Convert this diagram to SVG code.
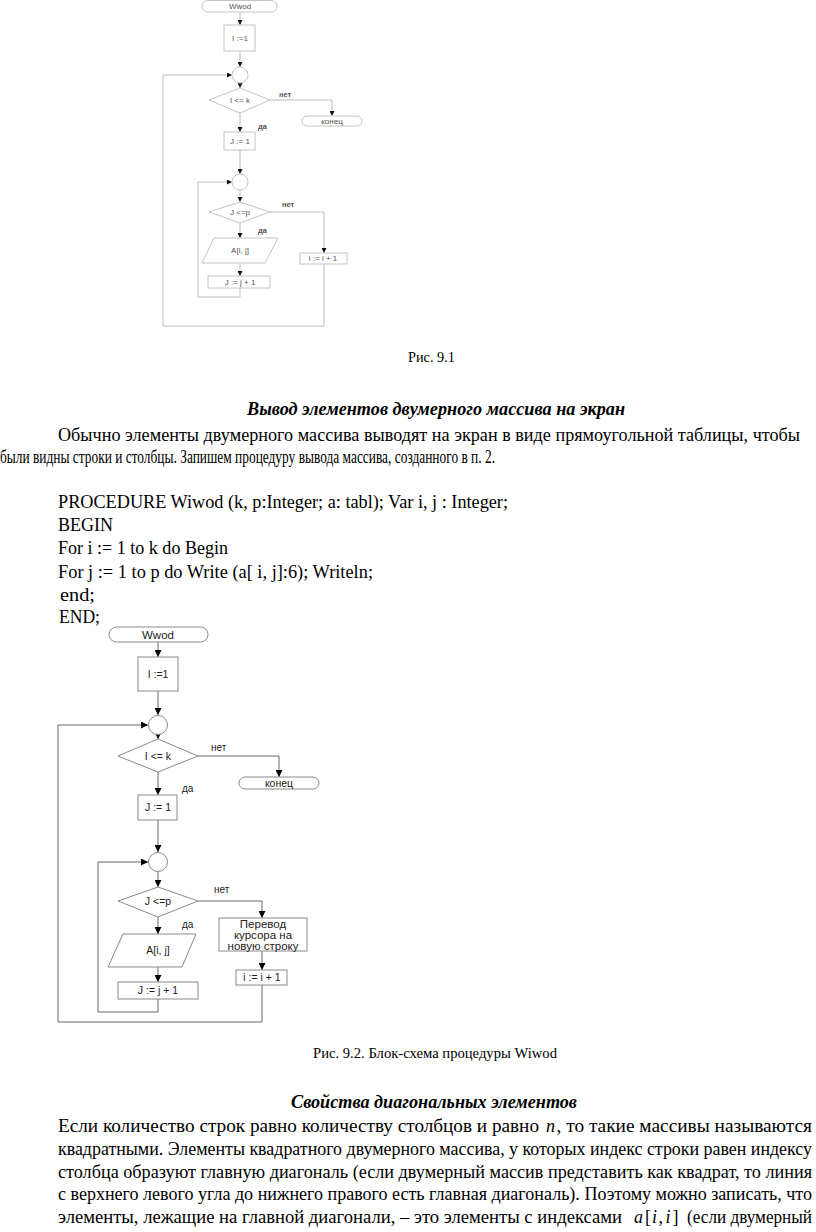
<svg xmlns="http://www.w3.org/2000/svg" width="816" height="1232" viewBox="0 0 816 1232">
<style>
.bg{fill:#fff}
.t{font-family:"Liberation Serif","Times New Roman",serif;font-size:18px;fill:#000}
.cap{font-family:"Liberation Serif","Times New Roman",serif;font-size:15px;fill:#000}
.bi{font-weight:bold;font-style:italic}
.i{font-style:italic}
.f1 .shape{fill:#fff;stroke:#c4c4c4;stroke-width:1}
.f1 .ln{fill:none;stroke:#bdbdbd;stroke-width:1}
.f1 text{font-family:"Liberation Sans",Arial,sans-serif;font-size:8px;fill:#555;text-anchor:middle}
.f1 text.lbl{text-anchor:start;font-weight:bold;font-size:7.5px}
.f2 .shape{fill:#fff;stroke:#8a8a8a;stroke-width:1}
.f2 .ln{fill:none;stroke:#666;stroke-width:1}
.f2 text{font-family:"Liberation Sans",Arial,sans-serif;font-size:10.5px;fill:#222;text-anchor:middle}
.f2 text.lbl{text-anchor:start;font-size:10px}
.f2 text.big{font-size:11.5px}
</style>
<defs>
<marker id="a1" viewBox="0 0 10 10" refX="10" refY="5" markerWidth="5" markerHeight="5" orient="auto" markerUnits="userSpaceOnUse"><path d="M0,0 L10,5 L0,10 z" fill="#111"/></marker>
<marker id="a2" viewBox="0 0 10 10" refX="10" refY="5" markerWidth="7" markerHeight="7" orient="auto" markerUnits="userSpaceOnUse"><path d="M0,0 L10,5 L0,10 z" fill="#000"/></marker>
</defs>
<rect class="bg" x="0" y="0" width="816" height="1232"/>

<!-- Figure 9.1 -->
<g class="f1">
<g id="f1-connectors">
<path class="ln" d="M240,12 V25" marker-end="url(#a1)"/>
<path class="ln" d="M240,51 V67" marker-end="url(#a1)"/>
<path class="ln" d="M240,83 V88" marker-end="url(#a1)"/>
<path class="ln" d="M270,100 H332 V116" marker-end="url(#a1)"/>
<path class="ln" d="M240,113 V132" marker-end="url(#a1)"/>
<path class="ln" d="M240,150 V174" marker-end="url(#a1)"/>
<path class="ln" d="M240,190 V202" marker-end="url(#a1)"/>
<path class="ln" d="M270,212 H324 V253" marker-end="url(#a1)"/>
<path class="ln" d="M240,223 V238" marker-end="url(#a1)"/>
<path class="ln" d="M240,263 V276" marker-end="url(#a1)"/>
<path class="ln" d="M240,288 V297 H198 V182 H232" marker-end="url(#a1)"/>
<path class="ln" d="M324,264 V326 H163 V75 H232" marker-end="url(#a1)"/>
<text class="lbl" x="279" y="97">нет</text>
<text class="lbl" x="258" y="129">да</text>
<text class="lbl" x="282" y="207">нет</text>
<text class="lbl" x="258" y="233">да</text>
</g>
<g id="f1-start"><rect class="shape" x="202" y="0.5" width="75" height="11.5" rx="5.75"/><text x="240" y="9">Wwod</text></g>
<g id="f1-i1"><rect class="shape" x="224" y="25" width="31" height="26"/><text x="240" y="41">I :=1</text></g>
<g id="f1-c1"><circle class="shape" cx="240" cy="75" r="8"/></g>
<g id="f1-d1"><polygon class="shape" points="240,88 270,100 240,113 209,100"/><text x="240" y="103">I &lt;= k</text></g>
<g id="f1-end"><rect class="shape" x="302" y="116" width="60" height="10" rx="5"/><text x="332" y="124">конец</text></g>
<g id="f1-j1"><rect class="shape" x="224" y="132" width="31" height="18"/><text x="240" y="144">J := 1</text></g>
<g id="f1-c2"><circle class="shape" cx="240" cy="182" r="8"/></g>
<g id="f1-d2"><polygon class="shape" points="240,202 270,212 240,223 209,212"/><text x="240" y="215">J &lt;=p</text></g>
<g id="f1-out"><polygon class="shape" points="214,238 278,238 265,263 202,263"/><text x="240" y="253">A[i, j]</text></g>
<g id="f1-jinc"><rect class="shape" x="208" y="276" width="62" height="12"/><text x="240" y="285">J := j + 1</text></g>
<g id="f1-iinc"><rect class="shape" x="300" y="253" width="47" height="11"/><text x="323" y="261">i := i + 1</text></g>
</g>

<text class="cap" x="408" y="362" textLength="47" lengthAdjust="spacingAndGlyphs">Рис. 9.1</text>
<text class="t bi" x="247" y="415" textLength="378" lengthAdjust="spacingAndGlyphs">Вывод элементов двумерного массива на экран</text>
<text class="t" x="58" y="441" textLength="742" lengthAdjust="spacingAndGlyphs">Обычно элементы двумерного массива выводят на экран в виде прямоугольной таблицы, чтобы</text>
<text class="t" x="0" y="463" textLength="495" lengthAdjust="spacingAndGlyphs">были видны строки и столбцы. Запишем процедуру вывода массива, созданного в п. 2.</text>

<text class="t" x="58" y="508" textLength="450" lengthAdjust="spacingAndGlyphs">PROCEDURE Wiwod (k, p:Integer; a: tabl); Var i, j : Integer;</text>
<text class="t" x="58" y="531" textLength="55" lengthAdjust="spacingAndGlyphs">BEGIN</text>
<text class="t" x="58" y="554" textLength="170" lengthAdjust="spacingAndGlyphs">For i := 1 to k do Begin</text>
<text class="t" x="58" y="578" textLength="315" lengthAdjust="spacingAndGlyphs">For j := 1 to p do Write (a[ i, j]:6); Writeln;</text>
<text class="t" x="60" y="601" textLength="35" lengthAdjust="spacingAndGlyphs">end;</text>
<text class="t" x="59" y="623" textLength="41" lengthAdjust="spacingAndGlyphs">END;</text>

<!-- Figure 9.2 -->
<g class="f2">
<g id="f2-connectors">
<path class="ln" d="M158,642 V657" marker-end="url(#a2)"/>
<path class="ln" d="M158,691 V715" marker-end="url(#a2)"/>
<path class="ln" d="M158,735 V739" marker-end="url(#a2)"/>
<path class="ln" d="M198,756 H279 V777" marker-end="url(#a2)"/>
<path class="ln" d="M158,772 V795" marker-end="url(#a2)"/>
<path class="ln" d="M158,820 V852" marker-end="url(#a2)"/>
<path class="ln" d="M158,872 V887" marker-end="url(#a2)"/>
<path class="ln" d="M198,901 H262 V918" marker-end="url(#a2)"/>
<path class="ln" d="M262,951 V970" marker-end="url(#a2)"/>
<path class="ln" d="M158,917 V934" marker-end="url(#a2)"/>
<path class="ln" d="M158,967 V982" marker-end="url(#a2)"/>
<path class="ln" d="M158,999 V1012 H98 V862 H148" marker-end="url(#a2)"/>
<path class="ln" d="M262,985 V1022 H58 V725 H148" marker-end="url(#a2)"/>
<text class="lbl" x="211" y="751">нет</text>
<text class="lbl" x="182" y="792">да</text>
<text class="lbl" x="214" y="893">нет</text>
<text class="lbl" x="182" y="928">да</text>
</g>
<g id="f2-start"><rect class="shape" x="109" y="627" width="99" height="15" rx="7.5"/><text class="big" x="158" y="638.5">Wwod</text></g>
<g id="f2-i1"><rect class="shape" x="138" y="657" width="40" height="34"/><text x="158" y="678">I :=1</text></g>
<g id="f2-c1"><circle class="shape" cx="158" cy="725" r="9.5"/></g>
<g id="f2-d1"><polygon class="shape" points="158,739 198,756 158,772 118,756"/><text x="158" y="760">I &lt;= k</text></g>
<g id="f2-end"><rect class="shape" x="239" y="777" width="80" height="12" rx="6"/><text x="279" y="787">конец</text></g>
<g id="f2-j1"><rect class="shape" x="138" y="795" width="39" height="25"/><text x="158" y="811">J := 1</text></g>
<g id="f2-c2"><circle class="shape" cx="158" cy="862" r="9.5"/></g>
<g id="f2-d2"><polygon class="shape" points="158,887 198,901 158,917 118,901"/><text x="158" y="905">J &lt;=p</text></g>
<g id="f2-out"><polygon class="shape" points="123,934 196,934 182,967 108,967"/><text x="158" y="954">A[i, j]</text></g>
<g id="f2-jinc"><rect class="shape" x="118" y="982" width="80" height="17"/><text x="158" y="994">J := j + 1</text></g>
<g id="f2-nl"><rect class="shape" x="219" y="918" width="88" height="33"/><text class="big" x="263" y="928">Перевод</text><text class="big" x="263" y="939">курсора на</text><text class="big" x="263" y="949.5">новую строку</text></g>
<g id="f2-iinc"><rect class="shape" x="236" y="970" width="51" height="15"/><text x="262" y="981">i := i + 1</text></g>
</g>

<text class="cap" x="313" y="1058" textLength="244" lengthAdjust="spacingAndGlyphs">Рис. 9.2. Блок-схема процедуры Wiwod</text>
<text class="t bi" x="291" y="1108" textLength="286" lengthAdjust="spacingAndGlyphs">Свойства диагональных элементов</text>

<text class="t" x="58" y="1132" textLength="481" lengthAdjust="spacingAndGlyphs">Если количество строк равно количеству столбцов и равно</text>
<text class="t i" x="546" y="1132">n</text>
<text class="t" x="556.5" y="1132" textLength="255.5" lengthAdjust="spacingAndGlyphs">, то такие массивы называются</text>

<text class="t" x="58" y="1155" textLength="754" lengthAdjust="spacingAndGlyphs">квадратными. Элементы квадратного двумерного массива, у которых индекс строки равен индексу</text>
<text class="t" x="58" y="1178" textLength="754" lengthAdjust="spacingAndGlyphs">столбца образуют главную диагональ (если двумерный массив представить как квадрат, то линия</text>
<text class="t" x="58" y="1200" textLength="754" lengthAdjust="spacingAndGlyphs">с верхнего левого угла до нижнего правого есть главная диагональ). Поэтому можно записать, что</text>

<text class="t" x="58" y="1223" textLength="564" lengthAdjust="spacingAndGlyphs">элементы, лежащие на главной диагонали, – это элементы с индексами</text>
<text class="t i" x="634" y="1223">a</text>
<text class="t" x="645" y="1223">[</text>
<text class="t i" x="652" y="1223">i</text>
<text class="t" x="658.5" y="1223">,</text>
<text class="t i" x="665.5" y="1223">i</text>
<text class="t" x="672.5" y="1223">]</text>
<text class="t" x="687" y="1223" textLength="125" lengthAdjust="spacingAndGlyphs">(если двумерный</text>
</svg>
